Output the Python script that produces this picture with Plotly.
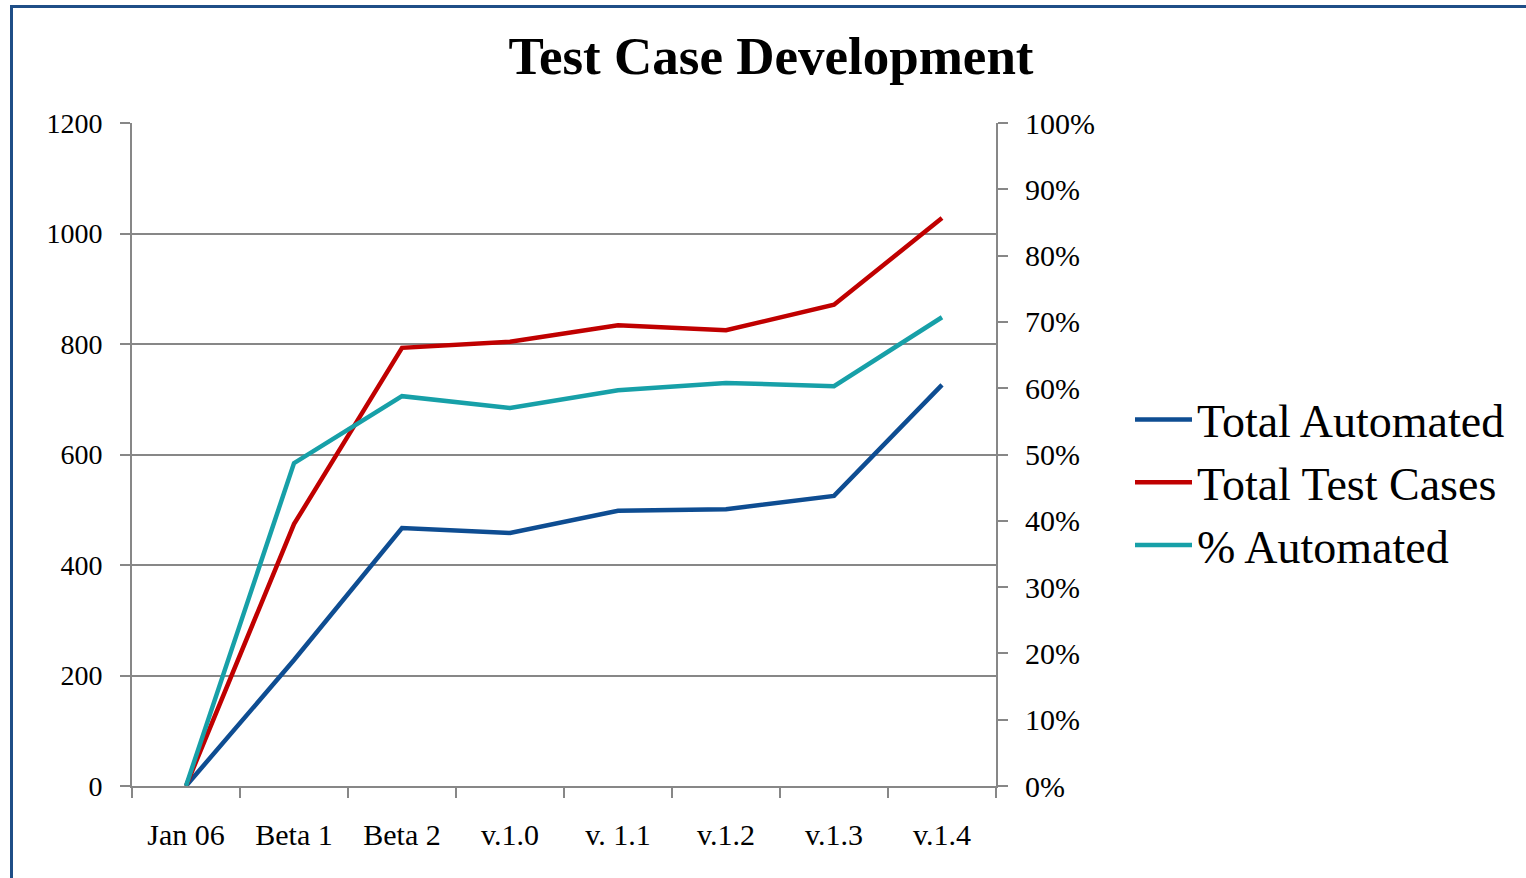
import plotly.graph_objects as go

categories = ["Jan 06", "Beta 1", "Beta 2", "v.1.0", "v. 1.1", "v.1.2", "v.1.3", "v.1.4"]
total_automated = [0, 228, 467, 458, 498, 501, 525, 726]
total_test_cases = [0, 474, 793, 804, 834, 825, 871, 1028]
pct_automated = [0.0, 0.487, 0.588, 0.570, 0.597, 0.608, 0.603, 0.707]

FONT = "Liberation Serif"
GRID = "#878787"

fig = go.Figure()
fig.add_trace(go.Scatter(x=categories, y=total_automated, name="Total Automated",
                         mode="lines", line=dict(color="#0E4D92", width=4.5)))
fig.add_trace(go.Scatter(x=categories, y=total_test_cases, name="Total Test Cases",
                         mode="lines", line=dict(color="#C00000", width=4.5)))
fig.add_trace(go.Scatter(x=categories, y=pct_automated, name="% Automated", yaxis="y2",
                         mode="lines", line=dict(color="#17A0A8", width=4.5)))

W, H = 1526, 878
L, R, T, B = 132, 996, 123, 786
pw, ph = R - L, B - T

def px_x(v):
    return (v - L) / pw

def px_y(v):
    return (B - v) / ph

fig.update_layout(
    width=W, height=H,
    margin=dict(l=L, r=W - R, t=T, b=H - B),
    paper_bgcolor="white", plot_bgcolor="white",
    font=dict(family=FONT, color="black"),
    title=dict(text="<b>Test Case Development</b>", xref="container", x=771 / W,
               xanchor="center", yref="container", y=1 - 55 / H, yanchor="middle",
               font=dict(size=53, family=FONT)),
    xaxis=dict(type="category", showgrid=False, showline=True, linecolor=GRID, linewidth=2,
               ticks="outside", ticklen=10, tickcolor=GRID, tickwidth=2, tickson="boundaries",
               tickfont=dict(size=30), ticklabelstandoff=21, range=[-0.5, 7.5]),
    yaxis=dict(range=[0, 1200], dtick=200, showgrid=True, gridcolor=GRID, gridwidth=2,
               showline=True, linecolor=GRID, linewidth=2, ticks="outside", ticklen=10,
               tickcolor=GRID, tickwidth=2, tickfont=dict(size=28), ticklabelstandoff=12,
               zeroline=False),
    yaxis2=dict(range=[0, 1], dtick=0.1, tickformat=".0%", overlaying="y", side="right",
                showgrid=False, showline=True, linecolor=GRID, linewidth=2, ticks="outside",
                ticklen=10, tickcolor=GRID, tickwidth=2, tickfont=dict(size=30),
                ticklabelstandoff=11, zeroline=False),
    legend=dict(x=px_x(1130), xanchor="left", y=px_y(383), yanchor="top",
                font=dict(size=46, family=FONT), tracegroupgap=0, itemwidth=57,
                bgcolor="rgba(0,0,0,0)"),
    shapes=[dict(type="rect", xref="paper", yref="paper",
                 x0=px_x(11.5), x1=px_x(1560), y0=px_y(930), y1=px_y(6.5),
                 line=dict(color="#1F4E87", width=3), fillcolor="rgba(0,0,0,0)", layer="above")],
)

fig.write_html("out.html", config={"displayModeBar": False},
               post_script="document.body.style.margin='0';")
